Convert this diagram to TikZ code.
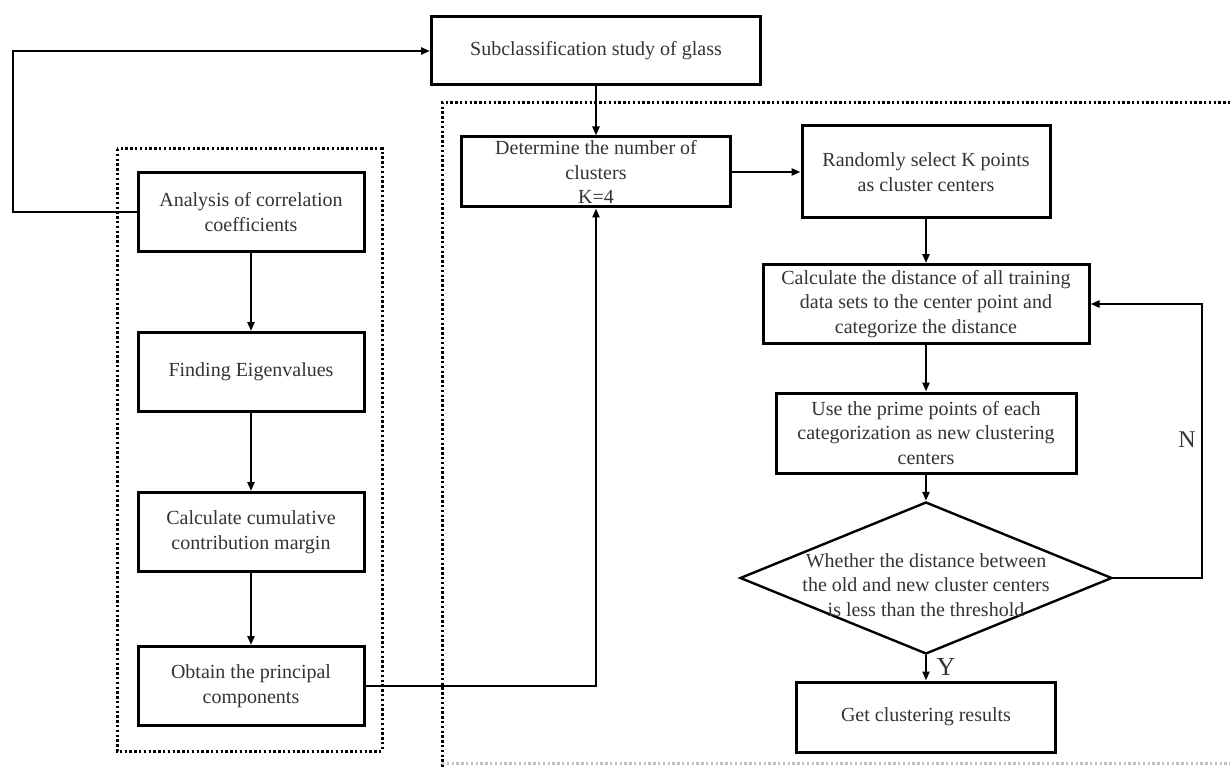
\documentclass[tikz,border=0pt]{standalone}
\usepackage{fontspec}
\setmainfont{Liberation Serif}
\usetikzlibrary{arrows.meta,shapes.geometric}

\begin{document}
\begin{tikzpicture}[x=1pt,y=-1pt,
        font=\fontsize{20}{24.5}\selectfont,text=black!80,
        >={Triangle[length=9pt,width=7pt]},
        box/.style={draw,line width=3pt,align=center,inner sep=0pt},
        link/.style={->,line width=2.4pt},
        dots/.style={line width=3pt,dash pattern=on 2.4pt off 2.4pt}]
    \useasboundingbox (0,0) rectangle (1230,767);
    % dotted frames
    \draw[dots] (117,149) rectangle (382,751);
    \draw[dots] (1240,103) -- (442,103) -- (442,775);
    \draw[dots,black!25] (442,763) -- (1240,763);
    % principal component side
    \foreach[count=\i] \y/\t in {212/Analysis of correlation\\coefficients,372/Finding Eigenvalues,532/Calculate cumulative\\contribution margin,686/Obtain the principal\\components}{
        \node[box,minimum width=226pt,minimum height=79pt] (pca\i) at (251,\y) {\t};
    }
    \foreach \i/\j in {1/2,2/3,3/4}
        \draw[link] (pca\i) -- (pca\j);
    % clustering side
    \node[box,minimum width=329pt,minimum height=68pt] (sub) at (596,51) {Subclassification study of glass};
    \node[box,minimum width=269pt,minimum height=70pt] (det) at (596,172) {Determine the number of\\clusters\\K=4};
    \node[box,minimum width=248pt,minimum height=92pt] (rand) at (926,172) {Randomly select K points\\as cluster centers};
    \node[box,minimum width=326pt,minimum height=79pt] (calc) at (926,304) {Calculate the distance of all training\\data sets to the center point and\\categorize the distance};
    \node[box,minimum width=300pt,minimum height=80pt] (use) at (926,433) {Use the prime points of each\\categorization as new clustering\\centers};
    \node[draw,diamond,line width=2.4pt,inner sep=0pt,minimum width=372pt,minimum height=152pt] (judge) at (926,578) {};
    \node[align=center] (judgetext) at (926,585) {Whether the distance between\\the old and new cluster centers\\is less than the threshold};
    \node[box,minimum width=259pt,minimum height=70pt] (get) at (926,717) {Get clustering results};
    \node[font=\fontsize{26}{26}\selectfont] (yes) at (946,667) {Y};
    \node[font=\fontsize{24}{24}\selectfont] (no) at (1187,440) {N};
    \coordinate (turn) at (13,51);
    \coordinate (back) at (1202,578);
    % connectors
    \draw[link] (pca1.west) -| (turn) -- (sub.west);
    \draw[link] (sub) -- (det);
    \draw[link] (pca4.east) -| (det.south);
    \draw[link] (det) -- (rand);
    \draw[link] (rand) -- (calc);
    \draw[link] (calc) -- (use);
    \draw[link] (use) -- (judge.north);
    \draw[link] (judge.south) -- (get);
    \draw[link] (judge.east) -- (back) |- (calc.east);
\end{tikzpicture}
\end{document}
